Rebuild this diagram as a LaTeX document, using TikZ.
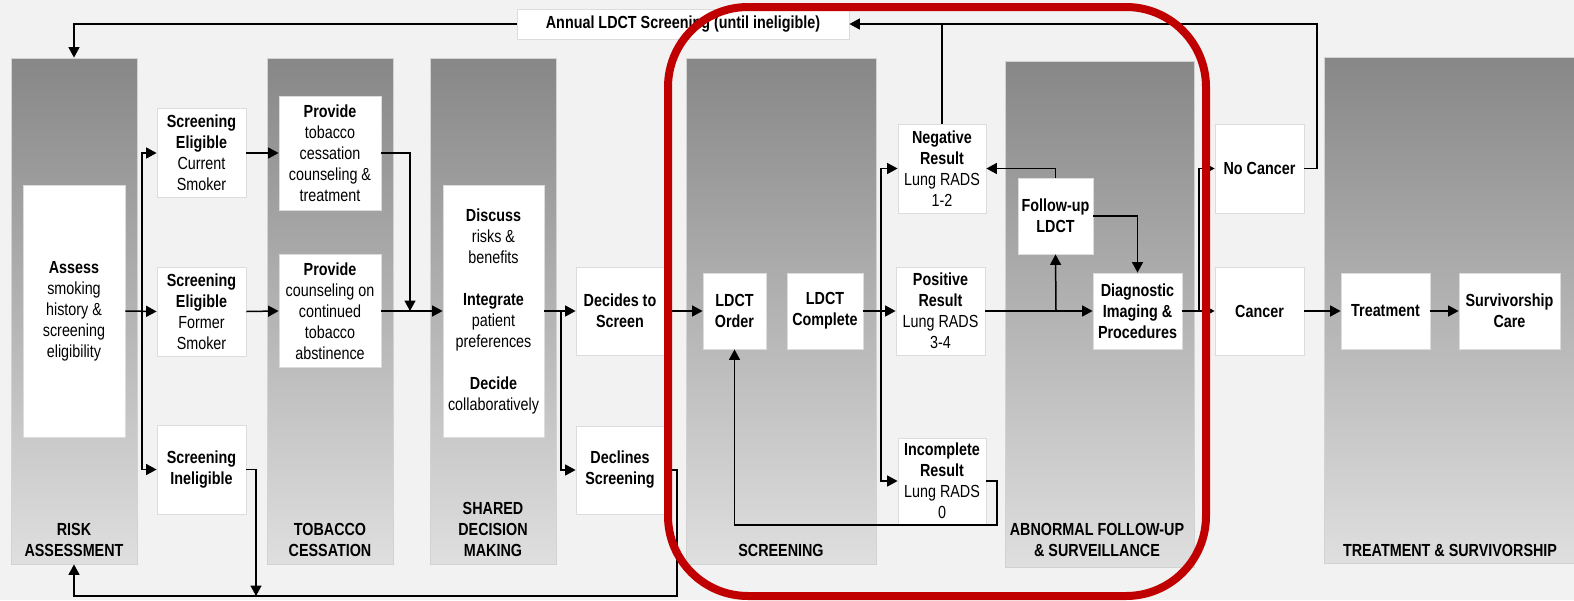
\documentclass[tikz,border=0pt]{standalone}
\usepackage{fontspec}
\setmainfont{Liberation Sans}[FakeStretch=0.82]
\usetikzlibrary{arrows.meta,calc}

\definecolor{backgr}{HTML}{F2F2F2}
\definecolor{paneltop}{HTML}{878787}
\definecolor{panelbot}{HTML}{DFDFDF}
\definecolor{panelline}{HTML}{D2D2D2}
\definecolor{boxline}{HTML}{DCDCDC}
\definecolor{focusred}{HTML}{C00000}

\newcommand{\boxfont}{\fontsize{17.5}{21}\selectfont}

\tikzset{
  panel/.style={rectangle,inner sep=0pt,top color=paneltop,bottom color=panelbot,draw=panelline,line width=0.8pt},
  phaselabel/.style={align=center,font=\boxfont\bfseries,inner sep=0pt},
  stepbox/.style={rectangle,fill=white,draw=boxline,line width=0.8pt,inner sep=0pt,align=center,font=\boxfont},
  flow/.style={line width=1.5pt,-{Triangle[length=10.5pt,width=11pt]}},
  link/.style={line width=1.5pt}
}

\begin{document}
\begin{tikzpicture}[x=1pt,y=-1pt]
\fill[backgr] (0,0) rectangle (1574,600);
\useasboundingbox (0,0) rectangle (1574,600);

% phase columns
\node[panel,minimum width=126,minimum height=506] (riskpanel) at (74,311) {};
\node[panel,minimum width=126,minimum height=506] (tobpanel) at (330,311) {};
\node[panel,minimum width=126,minimum height=506] (sdmpanel) at (493,311) {};
\node[panel,minimum width=190,minimum height=506] (scrpanel) at (781,311) {};
\node[panel,minimum width=189,minimum height=506] (abnpanel) at (1099.5,314) {};
\node[panel,minimum width=252,minimum height=506] (trtpanel) at (1450,310) {};

\node[phaselabel] (risklabel) at (74,540) {RISK\\ASSESSMENT};
\node[phaselabel] (toblabel) at (330,540) {TOBACCO\\CESSATION};
\node[phaselabel] (sdmlabel) at (493,529.5) {SHARED\\DECISION\\MAKING};
\node[phaselabel] (scrlabel) at (781,550) {SCREENING};
\node[phaselabel] (abnlabel) at (1097,540) {ABNORMAL FOLLOW-UP\\\& SURVEILLANCE};
\node[phaselabel] (trtlabel) at (1450,550) {TREATMENT \& SURVIVORSHIP};

% steps
\node[stepbox,minimum width=332,minimum height=30] (annual) at (683,24) {\textbf{Annual LDCT Screening (until ineligible)}};
\node[stepbox,minimum width=102,minimum height=252] (assess) at (74,311) {\textbf{Assess}\\smoking\\history \&\\screening\\eligibility};
\node[stepbox,minimum width=89,minimum height=89] (curr) at (201.5,153) {\textbf{Screening}\\\textbf{Eligible}\\Current\\Smoker};
\node[stepbox,minimum width=89,minimum height=89] (former) at (201.5,311.5) {\textbf{Screening}\\\textbf{Eligible}\\Former\\Smoker};
\node[stepbox,minimum width=89,minimum height=89] (inelig) at (201.5,469.5) {\textbf{Screening}\\\textbf{Ineligible}};
\node[stepbox,minimum width=102,minimum height=114] (provtob) at (330,153) {\textbf{Provide}\\tobacco\\cessation\\counseling \&\\treatment};
\node[stepbox,minimum width=102,minimum height=113] (provcouns) at (330,311) {\textbf{Provide}\\counseling on\\continued\\tobacco\\abstinence};
\node[stepbox,minimum width=101,minimum height=252] (discuss) at (493.5,311) {\textbf{Discuss}\\risks \&\\benefits\\[21pt]\textbf{Integrate}\\patient\\preferences\\[21pt]\textbf{Decide}\\collaboratively};
\node[stepbox,minimum width=88,minimum height=88] (decides) at (620,311) {\textbf{Decides to}\\\textbf{Screen}};
\node[stepbox,minimum width=88,minimum height=88] (declines) at (620,470) {\textbf{Declines}\\\textbf{Screening}};
\node[stepbox,minimum width=63,minimum height=76] (order) at (734.5,311) {\textbf{LDCT}\\\textbf{Order}};
\node[stepbox,minimum width=76,minimum height=76] (complete) at (825,311) {\textbf{LDCT}\\\textbf{Complete}};
\node[stepbox,minimum width=88,minimum height=89] (negative) at (942,168.5) {\textbf{Negative}\\\textbf{Result}\\Lung RADS\\1-2};
\node[stepbox,minimum width=89,minimum height=88] (positive) at (940.5,311) {\textbf{Positive}\\\textbf{Result}\\Lung RADS\\3-4};
\node[stepbox,minimum width=88,minimum height=86] (incomplete) at (942,481) {\textbf{Incomplete}\\\textbf{Result}\\Lung RADS\\0};
\node[stepbox,minimum width=75,minimum height=76] (followup) at (1055.5,216) {\textbf{Follow-up}\\\textbf{LDCT}};
\node[stepbox,minimum width=89,minimum height=76] (diag) at (1137.5,311) {\textbf{Diagnostic}\\\textbf{Imaging \&}\\\textbf{Procedures}};
\node[stepbox,minimum width=89,minimum height=89] (nocancer) at (1259.5,168.5) {\textbf{No Cancer}};
\node[stepbox,minimum width=89,minimum height=88] (cancer) at (1259.5,311) {\textbf{Cancer}};
\node[stepbox,minimum width=89,minimum height=76] (treat) at (1385.5,311) {\textbf{Treatment}};
\node[stepbox,minimum width=101,minimum height=76] (surv) at (1509.5,311) {\textbf{Survivorship}\\\textbf{Care}};

% forks and bends
\coordinate (riskfork) at (142,311);
\coordinate (tobjoin) at (410,311);
\coordinate (sdmfork) at (561,311);
\coordinate (scrfork) at (881,311);
\coordinate (posfork) at (1056,311);
\coordinate (diagfork) at (1199,311);
\coordinate (inelbend) at (256,596);
\coordinate (declbend) at (677,596);
\coordinate (incbend) at (997,525);
\coordinate (nocbend) at (1317,24);

% connectors
\draw[flow] (assess.east) -- (former.west);
\draw[flow] (riskfork) |- (curr.west);
\draw[flow] (riskfork) |- (inelig.west);
\draw[flow] (curr.east) -- (provtob.west);
\draw[flow] (former.east) -- (provcouns.west);
\draw[flow] (provtob.east) -| (tobjoin);
\draw[flow] (provcouns.east) -- (discuss.west);
\draw[link] (discuss.east) -- (sdmfork);
\draw[flow] (sdmfork) -- (decides.west);
\draw[flow] (sdmfork) |- (declines.west);
\draw[flow] (inelig.east) -| (inelbend);
\draw[flow] (declines.east) -| (declbend) -| (riskpanel.south);
\draw[flow] (decides.east) -- (order.west);
\draw[flow] (complete.east) -- (positive.west);
\draw[flow] (scrfork) |- (negative.west);
\draw[flow] (scrfork) |- (incomplete.west);
\draw[flow] (incomplete.east) -| (incbend) -| (order.south);
\draw[flow] (positive.east) -- (diag.west);
\draw[flow] (posfork) -- (followup.south);
\draw[flow] (followup.north) |- (negative.east);
\draw[flow] (followup.east) -| (diag.north);
\draw[link] (diag.east) -- (diagfork);
\draw[flow] (diagfork) -- (cancer.west);
\draw[flow] (diagfork) |- (nocancer.west);
\draw[flow] (cancer.east) -- (treat.west);
\draw[flow] (treat.east) -- (surv.west);
\draw[flow] (nocancer.east) -| (nocbend) -- (annual.east);
\draw[link] (negative.north) -- (negative.north |- annual.east);
\draw[flow] (annual.west) -| (riskpanel.north);

% highlight
\draw[focusred,line width=8pt,rounded corners=80pt] (668,7) rectangle (1206,596);
\end{tikzpicture}
\end{document}
